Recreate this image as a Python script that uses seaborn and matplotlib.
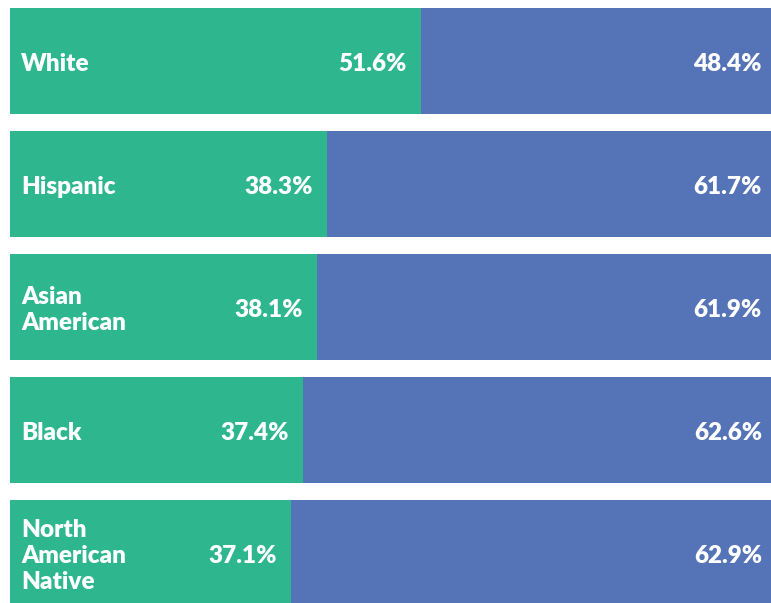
import matplotlib
matplotlib.use("Agg")
import matplotlib.pyplot as plt
import seaborn as sns
import pandas as pd

categories = ["White", "Hispanic", "Asian\nAmerican", "Black", "North\nAmerican\nNative"]
green_pct = [51.6, 38.3, 38.1, 37.4, 37.1]      # labels shown on green part
blue_pct = [48.4, 61.7, 61.9, 62.6, 62.9]       # labels shown on blue part
green_bar = [54.0, 41.7, 40.3, 38.5, 36.9]      # green segment length as drawn (% of bar)

GREEN = "#2EB68F"
BLUE = "#5574B7"

sns.set_theme(style="white")
plt.rcParams['font.family'] = ['Lato', 'DejaVu Sans']

fig = plt.figure(figsize=(7.71, 6.03), dpi=100)
ax = fig.add_axes([10/771, 0, 761/771, 1])

df = pd.DataFrame({"cat": categories, "green": green_bar, "total": [100.0]*len(categories)})
sns.barplot(data=df, x="total", y="cat", color=BLUE, saturation=1, width=0.862, linewidth=0, ax=ax)
sns.barplot(data=df, x="green", y="cat", color=GREEN, saturation=1, width=0.862, linewidth=0, ax=ax)

ax.set_xlim(0, 100)
ax.set_ylim(542/123, -61/123)
ax.axis("off")

px = 100/761
dy = 3/123
fs = 17.5
for i, cat in enumerate(categories):
    ax.text(11*px, i + dy, cat, ha="left", va="center", color="white", fontsize=fs,
            fontweight="heavy", linespacing=1.22)
    ax.text(green_bar[i] - 14*px, i + dy, f"{green_pct[i]:.1f}%", ha="right", va="center",
            color="white", fontsize=fs, fontweight="heavy")
    ax.text(100 - 9*px, i + dy, f"{blue_pct[i]:.1f}%", ha="right", va="center",
            color="white", fontsize=fs, fontweight="heavy")

fig.savefig("out.png", dpi=100, facecolor="white")
